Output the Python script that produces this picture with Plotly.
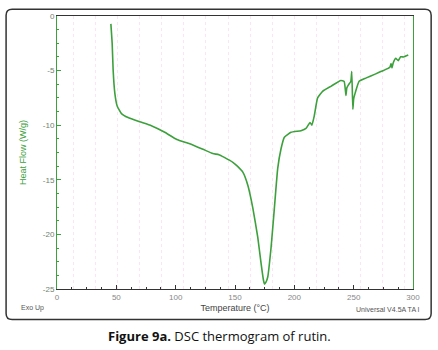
import plotly.graph_objects as go

temperature = [45.4, 46.5, 47.3, 48.7, 50.7, 54.3, 59.9, 69.7, 79.5, 90.8, 101, 111.8, 123, 131.3,
               136.4, 141, 148.2, 152, 156.6, 160.8, 165, 169.2, 172, 174, 174.9, 176, 177.6, 180.4,
               183.2, 186, 188.8, 191.6, 197.2, 205.6, 209.8, 213.2, 214.8, 216.8, 219.6, 223.8,
               230.8, 239.2, 242, 243.5, 244.2, 245.6, 247.6, 248.4, 249.3, 250, 251.3, 254.6,
               260.2, 268.6, 275, 280.5, 281.5, 282.3, 283.3, 285.4, 287.6, 289.6, 292, 296]
heat_flow = [-0.72, -2.53, -4.93, -7.04, -8.24, -8.94, -9.3, -9.69, -10.05, -10.65, -11.31, -11.7,
             -12.21, -12.6, -12.7, -12.95, -13.4, -13.75, -14.3, -15.5, -17.57, -20.28, -22.68,
             -24.2, -24.55, -24.4, -23.9, -21.2, -17.57, -13.96, -12.16, -11.1, -10.65, -10.5,
             -10.3, -9.75, -9.99, -9.14, -7.5, -6.9, -6.44, -5.9, -6.0, -7.28, -6.6, -6.3, -6.0,
             -5.08, -8.54, -7.6, -7.04, -5.98, -5.69, -5.3, -5.0, -4.7, -4.35, -4.75, -4.3,
             -3.88, -4.09, -3.73, -3.75, -3.58]

x_ticks = [0, 50, 100, 150, 200, 250, 300]
y_ticks = [0, -5, -10, -15, -20, -25]

GREEN = "rgb(60,160,60)"
LABEL = "rgb(110,130,110)"

fig = go.Figure()
fig.add_trace(go.Scatter(x=temperature, y=heat_flow, mode="lines",
                         line=dict(color=GREEN, width=1.6, shape="spline", smoothing=0.4),
                         showlegend=False, hoverinfo="skip"))
# invisible trace on overlay axis for the faint dotted grid
fig.add_trace(go.Scatter(x=[0, 300], y=[0, -25], xaxis="x2", mode="markers",
                         marker=dict(opacity=0), showlegend=False, hoverinfo="skip"))

fig.update_layout(
    width=438, height=350,
    margin=dict(l=57, r=25, t=12, b=61),
    paper_bgcolor="white", plot_bgcolor="white",
    font=dict(family="Liberation Sans, Arial", size=8, color=LABEL),
    xaxis=dict(range=[0, 300], tickvals=x_ticks, ticks="inside", ticklen=4, tickwidth=1,
               tickcolor="#333", showline=True, linecolor="#333", linewidth=1, mirror=True,
               showgrid=False, zeroline=False,
               minor=dict(dtick=12.5, ticks="inside", ticklen=2, tickcolor="#333"),
               tickfont=dict(size=8, color="#888"),
               title=dict(text="Temperature (°C)", font=dict(size=9, color="#444"), standoff=4)),
    xaxis2=dict(range=[0, 300], overlaying="x", showticklabels=False, ticks="",
                showgrid=True, gridcolor="rgba(240,160,210,0.28)", griddash="dot", gridwidth=1,
                tick0=32.5, dtick=18.6, zeroline=False, showline=False),
    yaxis=dict(range=[-25, 0], tickvals=y_ticks, ticktext=["0", "-5", "-10", "-15", "-20", "-25"],
               ticks="inside", ticklen=4, tickcolor=GREEN, showline=True, linecolor=GREEN,
               linewidth=1, mirror=True, showgrid=False, zeroline=False,
               minor=dict(dtick=1.25, ticks="inside", ticklen=2, tickcolor=GREEN),
               tickfont=dict(size=8, color=LABEL),
               title=dict(text="Heat Flow (W/g)", font=dict(size=9, color=GREEN), standoff=14)),
)

# outer rounded frame (paper coords)
x0, x1, y0, y1 = -0.143, 1.051, -0.112, 1.025
rx, ry = 0.017, 0.022
path = (f"M {x0+rx},{y1} L {x1-rx},{y1} Q {x1},{y1} {x1},{y1-ry} L {x1},{y0+ry} "
        f"Q {x1},{y0} {x1-rx},{y0} L {x0+rx},{y0} Q {x0},{y0} {x0},{y0+ry} "
        f"L {x0},{y1-ry} Q {x0},{y1} {x0+rx},{y1} Z")
fig.add_shape(type="path", path=path, xref="paper", yref="paper",
              line=dict(color="#333", width=1.5), layer="below")

fig.add_annotation(text="Exo Up", xref="paper", yref="paper", x=(32-57)/356, y=(289-308)/277,
                   showarrow=False, font=dict(size=7, color="#555"), xanchor="center", yanchor="middle")
fig.add_annotation(text="Universal V4.5A TA I", xref="paper", yref="paper", x=(422-57)/356,
                   y=(289-310)/277, showarrow=False, font=dict(size=7, color="#555"),
                   xanchor="right", yanchor="middle")
fig.add_annotation(text="<b>Figure 9a.</b> DSC thermogram of rutin.", xref="paper", yref="paper",
                   x=(219-57)/356, y=(289-337)/277, showarrow=False,
                   font=dict(family="Open Sans, Noto Sans", size=13, color="#111"),
                   xanchor="center", yanchor="middle")

fig.write_html("out.html")
